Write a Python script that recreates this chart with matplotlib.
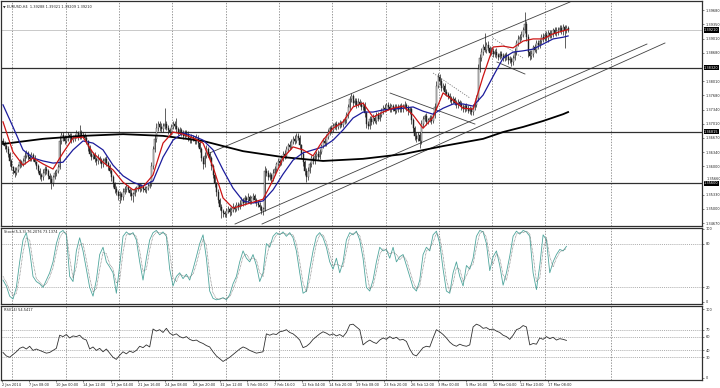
import numpy as np
import matplotlib
matplotlib.use("Agg")
import matplotlib.pyplot as plt
from matplotlib import transforms

W, H = 720, 388

# EURUSD H4, prices in pips above 1.3000, one value per bar
first_open = 660
close_p = [655, 648, 640, 630, 612, 598, 590, 585, 592, 600, 610, 605,
           612, 625, 632, 622, 618, 628, 620, 610, 600, 590, 580, 575,
           585, 595, 590, 578, 570, 560, 575, 585, 590, 598, 660, 675,
           668, 660, 665, 675, 670, 662, 668, 672, 678, 670, 680, 672,
           675, 668, 660, 645, 630, 622, 628, 618, 612, 620, 615, 605,
           612, 618, 608, 600, 590, 575, 560, 548, 540, 530, 535, 528,
           540, 548, 552, 545, 538, 530, 535, 545, 550, 556, 548, 552,
           548, 545, 550, 555, 560, 600, 640, 665, 690, 700, 692, 688,
           695, 700, 690, 685, 680, 692, 700, 695, 688, 682, 685, 678,
           672, 680, 675, 668, 662, 670, 665, 660, 668, 655, 640, 620,
           605, 625, 640, 630, 620, 600, 580, 560, 540, 520, 505, 495,
           490, 488, 495, 500, 492, 498, 505, 500, 510, 505, 512, 520,
           515, 525, 520, 528, 518, 525, 530, 522, 515, 510, 505, 495,
           500, 590, 585, 575, 580, 570, 585, 595, 605, 612, 608, 620,
           630, 625, 640, 650, 645, 658, 665, 660, 672, 668, 650, 630,
           610, 590, 575, 590, 605, 620, 612, 625, 630, 622, 635, 648,
           660, 655, 670, 680, 690, 685, 695, 700, 692, 698, 702, 698,
           705, 710, 720, 740, 758, 765, 750, 755, 745, 752, 748, 740,
           745, 725, 700, 695, 712, 705, 715, 708, 720, 712, 722, 730,
           738, 735, 745, 740, 735, 742, 738, 730, 740, 735, 742, 735,
           740, 745, 738, 730, 735, 710, 690, 672, 665, 675, 660, 700,
           712, 718, 705, 710, 715, 708, 720, 740, 790, 810, 800, 785,
           790, 775, 770, 765, 760, 755, 758, 750, 745, 752, 748, 740,
           735, 742, 738, 730, 735, 728, 740, 745, 760, 830, 855, 870,
           880, 875, 885, 878, 868, 872, 865, 870, 862, 858, 865, 860,
           855, 862, 858, 850, 852, 845, 855, 870, 890, 900, 905, 910,
           920, 935, 905, 870, 860, 865, 880, 875, 890, 885, 895, 905,
           900, 910, 902, 915, 908, 912, 920, 915, 918, 922, 925, 918,
           928, 920, 926, 921]
up_wick = [6, 4, 5, 8, 3, 6, 4, 9, 7, 5, 8, 6,
           7, 10, 6, 4, 8, 5, 3, 6, 4, 5, 7, 4,
           8, 6, 5, 4, 7, 9, 5, 6, 4, 8, 12, 7,
           5, 6, 9, 7, 4, 8, 6, 5, 7, 6, 18, 5,
           6, 4, 5, 3, 6, 8, 5, 7, 4, 9, 5, 6,
           8, 5, 6, 4, 5, 3, 6, 4, 7, 5, 8, 6,
           9, 6, 7, 5, 4, 8, 6, 7, 5, 6, 4, 7,
           5, 6, 4, 7, 5, 10, 8, 9, 12, 8, 6, 10,
           7, 37, 6, 8, 5, 9, 7, 6, 19, 5, 8, 6,
           7, 5, 6, 8, 4, 7, 5, 6, 9, 5, 4, 6,
           5, 8, 10, 6, 5, 4, 6, 5, 4, 6, 5, 7,
           6, 5, 8, 7, 4, 6, 9, 5, 7, 6, 8, 9,
           6, 7, 5, 9, 6, 5, 8, 6, 4, 5, 6, 4,
           5, 12, 7, 6, 8, 5, 9, 7, 6, 8, 5, 7,
           6, 8, 7, 5, 9, 6, 7, 8, 6, 6, 5, 4,
           6, 5, 7, 9, 6, 8, 5, 7, 6, 8, 7, 5,
           6, 8, 7, 9, 6, 7, 8, 5, 6, 7, 8, 6,
           7, 6, 9, 8, 7, 8, 6, 7, 5, 8, 6, 5,
           7, 6, 5, 8, 6, 7, 9, 5, 7, 8, 6, 7,
           6, 8, 5, 7, 9, 6, 5, 8, 7, 6, 5, 7,
           6, 8, 5, 7, 6, 4, 5, 6, 8, 5, 6, 9,
           7, 6, 8, 5, 7, 6, 9, 10, 12, 10, 8, 9,
           7, 6, 8, 5, 7, 6, 8, 5, 6, 7, 5, 6,
           7, 5, 8, 6, 7, 5, 8, 6, 9, 12, 10, 9,
           8, 34, 7, 9, 6, 8, 7, 6, 8, 5, 7, 6,
           8, 5, 7, 6, 8, 5, 7, 9, 8, 10, 7, 9,
           8, 28, 6, 7, 5, 8, 6, 9, 7, 8, 6, 7,
           9, 6, 8, 5, 7, 8, 6, 7, 9, 6, 8, 7,
           6, 5, 7, 5]
dn_wick = [5, 7, 6, 8, 10, 6, 7, 9, 5, 6, 4, 7,
           5, 6, 4, 7, 5, 6, 8, 5, 7, 6, 9, 8,
           6, 5, 7, 8, 9, 12, 6, 5, 7, 6, 5, 6,
           7, 8, 5, 6, 9, 6, 5, 7, 6, 8, 5, 7,
           5, 6, 7, 8, 6, 7, 5, 8, 9, 6, 7, 8,
           6, 5, 7, 8, 6, 9, 8, 10, 7, 9, 16, 7,
           6, 5, 7, 6, 8, 9, 14, 5, 6, 7, 8, 6,
           7, 6, 8, 5, 6, 7, 6, 5, 7, 6, 8, 7,
           6, 7, 5, 8, 6, 7, 5, 6, 8, 7, 5, 6,
           7, 5, 6, 8, 7, 6, 5, 8, 6, 9, 7, 8,
           10, 6, 5, 7, 8, 9, 7, 8, 9, 7, 8, 16,
           8, 7, 6, 5, 8, 7, 6, 8, 5, 7, 6, 5,
           7, 6, 8, 5, 7, 6, 5, 8, 7, 6, 8, 7,
           9, 5, 8, 7, 6, 8, 5, 6, 7, 5, 6, 5,
           6, 7, 5, 6, 7, 5, 6, 7, 5, 6, 8, 9,
           8, 9, 11, 6, 5, 7, 6, 5, 7, 6, 5, 6,
           5, 7, 6, 5, 7, 6, 5, 7, 6, 5, 7, 6,
           5, 6, 7, 5, 6, 7, 8, 6, 7, 5, 6, 7,
           6, 8, 9, 7, 6, 7, 5, 6, 7, 6, 5, 6,
           7, 6, 5, 7, 6, 8, 7, 6, 5, 7, 6, 7,
           6, 5, 7, 8, 6, 9, 8, 10, 7, 6, 17, 6,
           7, 6, 8, 6, 5, 7, 6, 5, 7, 6, 8, 7,
           6, 7, 5, 6, 8, 7, 5, 6, 7, 8, 6, 7,
           8, 6, 7, 5, 6, 8, 7, 6, 5, 6, 7, 6,
           7, 6, 8, 7, 9, 6, 7, 8, 6, 7, 5, 6,
           7, 6, 8, 9, 7, 8, 6, 5, 7, 6, 8, 7,
           6, 7, 10, 12, 9, 7, 8, 6, 7, 8, 6, 7,
           8, 6, 7, 9, 6, 7, 8, 6, 7, 8, 6, 7,
           8, 42, 6, 5]

# moving averages (pips above 1.3000), sampled every 6 bars
ma_bars = list(range(0, 337, 6)) + [339]
red_ma = [705, 634, 603, 620, 606, 594, 632, 667, 669, 632, 610, 592, 563, 545, 552,
          580, 655, 681, 676, 667, 655, 599, 526, 502, 509, 516, 523, 568, 620, 646,
          639, 625, 662, 690, 705, 740, 749, 716, 728, 737, 742, 721, 690, 716, 773,
          756, 737, 735, 812, 881, 883, 879, 895, 900, 900, 912, 919, 922]
blue_ma = [745, 693, 639, 620, 613, 608, 610, 639, 660, 655, 639, 603, 578, 563, 554,
           566, 622, 662, 679, 672, 662, 639, 592, 549, 519, 514, 519, 545, 582, 615,
           632, 639, 646, 662, 686, 714, 728, 728, 733, 735, 737, 740, 730, 723, 737,
           747, 747, 742, 768, 812, 855, 869, 872, 876, 888, 900, 904, 907]
black_bars = [0, 24, 48, 72, 96, 120, 144, 168, 192, 216, 240, 264, 288, 300, 312, 324, 336, 339]
black_ma = [653, 665, 672, 676, 672, 660, 636, 622, 613, 618, 629, 648, 665, 681, 693, 707, 723, 728]

# oscillators, one value every 2 bars
stoch_main = [30, 22, 8, 4, 20, 55, 85, 95, 70, 35, 28, 25, 20, 30, 40,
              55, 80, 95, 98, 92, 35, 28, 70, 88, 70, 45, 20, 8, 30, 65,
              75, 55, 48, 40, 12, 50, 90, 96, 92, 95, 85, 55, 30, 60, 85,
              95, 98, 92, 96, 90, 45, 22, 35, 40, 32, 38, 30, 45, 62, 80,
              92, 60, 15, 5, 3, 4, 6, 3, 10, 25, 35, 55, 70, 60, 55,
              65, 50, 28, 40, 80, 75, 90, 95, 92, 96, 90, 95, 88, 70, 40,
              12, 15, 45, 70, 90, 95, 88, 75, 55, 45, 60, 40, 55, 85, 95,
              92, 97, 85, 60, 20, 15, 30, 55, 75, 70, 72, 60, 75, 55, 62,
              65, 50, 35, 20, 15, 30, 65, 75, 70, 92, 97, 80, 45, 15, 12,
              40, 55, 35, 22, 50, 45, 60, 90, 98, 96, 80, 43, 62, 70, 50,
              23, 40, 63, 90, 97, 93, 98, 96, 90, 40, 17, 50, 92, 85, 40,
              55, 65, 72, 70, 76.2]
stoch_sig = [35, 27, 16, 9, 12, 35, 68, 88, 85, 55, 32, 27, 22, 25, 34,
             47, 68, 88, 95, 95, 60, 33, 48, 78, 80, 58, 33, 14, 18, 45,
             68, 66, 52, 45, 26, 30, 68, 92, 94, 93, 90, 70, 42, 45, 72,
             90, 96, 95, 94, 93, 68, 34, 28, 38, 36, 35, 34, 38, 52, 70,
             86, 78, 38, 12, 5, 4, 5, 5, 7, 17, 30, 45, 62, 66, 58,
             60, 58, 40, 35, 60, 80, 83, 92, 94, 94, 93, 93, 92, 80, 55,
             26, 14, 30, 56, 80, 92, 92, 82, 65, 50, 52, 50, 48, 70, 90,
             94, 95, 91, 73, 42, 18, 22, 42, 65, 73, 71, 66, 68, 65, 58,
             63, 58, 43, 28, 18, 22, 47, 70, 73, 82, 94, 89, 63, 30, 14,
             26, 47, 45, 28, 36, 48, 52, 75, 94, 97, 88, 62, 52, 66, 60,
             37, 30, 52, 77, 93, 95, 95, 97, 93, 65, 28, 33, 71, 88, 62,
             48, 60, 68, 71, 73.1]
rsi_vals = [37, 32, 30, 34, 38, 43, 45, 42, 46, 40, 42, 40, 38, 36, 37,
            40, 43, 62, 60, 63, 58, 61, 60, 62, 57, 55, 42, 45, 40, 43,
            38, 42, 36, 30, 27, 33, 38, 35, 39, 37, 40, 46, 44, 48, 45,
            71, 68, 70, 66, 72, 65, 62, 64, 60, 58, 60, 56, 54, 55, 52,
            50, 47, 45, 38, 32, 28, 24, 27, 30, 34, 38, 42, 45, 43, 40,
            38, 36, 37, 38, 64, 62, 64, 63, 67, 68, 70, 66, 64, 60, 55,
            44, 46, 50, 56, 60, 64, 67, 65, 62, 64, 61, 63, 60, 66, 77,
            78, 74, 70, 48, 52, 55, 52, 50, 55, 58, 56, 60, 57, 59, 55,
            56, 53, 42, 34, 32, 38, 44, 46, 45, 58, 70, 67, 63, 58, 52,
            48, 46, 49, 47, 46, 48, 74, 78, 76, 72, 73, 70, 71, 68, 66,
            62, 60, 56, 62, 70, 72, 76, 74, 48, 50, 49, 58, 56, 60, 57,
            59, 55, 57, 56, 54.5]
osc_bars = list(range(0, 340, 2))

price_ticks = [1.39680, 1.39350, 1.39010, 1.38680, 1.38010, 1.37680, 1.37340,
               1.37010, 1.36670, 1.36340, 1.36000, 1.35330, 1.35000, 1.34670]
crowded_tick = 1.35660
levels = [1.38320, 1.36815, 1.35600]
bid = 1.39210
date_labels = ["2 Jan 2014", "7 Jan 08:00", "10 Jan 00:00", "14 Jan 12:00", "17 Jan 04:00",
               "21 Jan 16:00", "24 Jan 08:00", "28 Jan 20:00", "31 Jan 12:00", "5 Feb 00:00",
               "7 Feb 16:00", "12 Feb 04:00", "14 Feb 20:00", "19 Feb 08:00", "23 Feb 20:00",
               "26 Feb 12:00", "3 Mar 00:00", "5 Mar 16:00", "10 Mar 04:00", "12 Mar 20:00",
               "17 Mar 08:00"]
# hand drawn trend lines: (bar, price) end points
trend_solid = [((122.4, 1.36293), (340.1, 1.39868)),
               ((139.2, 1.34647), (386.3, 1.38880)),
               ((155.4, 1.34647), (397.1, 1.38904)),
               ((232.2, 1.37727), (283.1, 1.36998)),
               ((296.3, 1.38457), (313.1, 1.38175))]
trend_dotted = [((258.0, 1.38198), (280.1, 1.37610)),
                ((293.9, 1.39021), (311.9, 1.38551))]


def pip(v):
    return 1.3 + np.asarray(v, dtype=float) / 10000.0


def px2bar(px):
    return (np.asarray(px, dtype=float) - 3) / 1.667


FS = 2.5
INK = '#202020'

fig = plt.figure(figsize=(W / 100, H / 100), dpi=100)
fig.patch.set_facecolor('white')


def panel(l, t, r, b):
    a = fig.add_axes([l / W, 1 - b / H, (r - l) / W, (b - t) / H])
    a.set_xlim(px2bar(0.5), px2bar(702))
    for s in a.spines.values():
        s.set_color('#303030')
        s.set_linewidth(0.9)
    a.yaxis.tick_right()
    a.tick_params(axis='y', direction='out', length=1.5, width=0.4, pad=1,
                  labelsize=FS, colors=INK)
    a.tick_params(axis='x', bottom=False, labelbottom=False)
    for g in px2bar([12, 66, 119, 172, 226, 279, 332, 386, 439, 492, 545, 611]):
        a.axvline(g, color='#707070', lw=0.5, ls=(0, (2, 2)), zorder=0)
    return a


ax = panel(0.5, 1, 702, 226)
ax_st = panel(0.5, 227.5, 702, 304)
ax_rsi = panel(0.5, 306, 702, 380)

# ---- main price panel
c = pip(close_p)
o = np.r_[pip(first_open), c[:-1]]
hi = np.maximum(o, c) + np.asarray(up_wick) / 1e4
lo = np.minimum(o, c) - np.asarray(dn_wick) / 1e4
idx = np.arange(len(c))
ax.vlines(idx, lo, hi, color=INK, lw=0.5, zorder=3)
body = np.where(np.abs(c - o) < 0.00006, 0.00006, c - o)
bull = c >= o
ax.bar(idx[bull], body[bull], bottom=o[bull], width=0.6, color='white',
       edgecolor=INK, linewidth=0.3, zorder=4)
ax.bar(idx[~bull], body[~bull], bottom=o[~bull], width=0.6, color=INK,
       edgecolor=INK, linewidth=0.3, zorder=4)

ax.plot(black_bars, pip(black_ma), color='black', lw=1.3, zorder=5)
ax.plot(ma_bars, pip(blue_ma), color='#1c1c9c', lw=0.9, zorder=6)
ax.plot(ma_bars, pip(red_ma), color='#cc1414', lw=0.9, zorder=7)

for (x0, y0), (x1, y1) in trend_solid:
    ax.plot([x0, x1], [y0, y1], color='#404040', lw=0.6, zorder=2)
for (x0, y0), (x1, y1) in trend_dotted:
    ax.plot([x0, x1], [y0, y1], color='#808080', lw=0.6, ls=(0, (1.5, 1.5)), zorder=2)

for lv in levels:
    ax.axhline(lv, color='#303030', lw=0.9, zorder=2)
ax.axhline(bid, color='#c0c0c0', lw=0.6, zorder=1)

ax.set_ylim(1.34600, 1.39892)
ax.set_yticks(price_ticks)
ax.set_yticklabels(['%.5f' % p for p in price_ticks])
tr = transforms.blended_transform_factory(ax.transAxes, ax.transData)
# the scale label that sits just above a level box is nudged up a little
ax.text(1.006, crowded_tick + 0.0001, '%.5f' % crowded_tick, transform=tr, ha='left',
        va='bottom', fontsize=FS, color=INK, clip_on=False)
for lv in levels + [bid]:
    ax.text(1.003, lv, '%.5f' % lv, transform=tr, ha='left', va='center', fontsize=FS,
            color='white', clip_on=False, zorder=10,
            bbox=dict(facecolor='black', edgecolor='none', pad=0.4))
ax.text(0.004, 0.985, '\u25bc EURUSD,H4  1.39288 1.39321 1.39209 1.39210',
        transform=ax.transAxes, ha='left', va='top', fontsize=FS, color=INK)

# ---- stochastic
ax_st.plot(osc_bars, stoch_main, color='#4ea59c', lw=0.6, zorder=3)
ax_st.plot(osc_bars, stoch_sig, color='#6c6c6c', lw=0.5, ls=(0, (1, 1)), zorder=3)
for lv in (20, 80):
    ax_st.axhline(lv, color='#909090', lw=0.5, ls=(0, (1.5, 1.5)), zorder=1)
ax_st.set_ylim(-2.74, 102.05)
ax_st.set_yticks([0, 20, 80, 100])
ax_st.set_yticklabels(['0', '20', '80', '100'])
ax_st.text(0.005, 0.94, 'Stoch(5,3,3) 76.2076 73.1374', transform=ax_st.transAxes,
           ha='left', va='center', fontsize=FS, color=INK)

# ---- RSI
ax_rsi.plot(osc_bars, rsi_vals, color='#303030', lw=0.6, zorder=3)
for lv in (30, 40, 60, 70):
    ax_rsi.axhline(lv, color='#909090', lw=0.5, ls=(0, (1.5, 1.5)), zorder=1)
ax_rsi.set_ylim(-2.9, 104.35)
ax_rsi.set_yticks([0, 30, 40, 60, 70, 100])
ax_rsi.set_yticklabels(['0', '30', '40', '60', '70', '100'])
ax_rsi.text(0.005, 0.945, 'RSI(14) 54.5417', transform=ax_rsi.transAxes,
            ha='left', va='center', fontsize=FS, color=INK)

ax_rsi.set_xticks(px2bar(1.5 + 27.3 * np.arange(len(date_labels))))
ax_rsi.set_xticklabels(date_labels, ha='left')
ax_rsi.tick_params(axis='x', bottom=True, labelbottom=True, direction='out', length=1.5,
                   width=0.4, pad=0.8, labelsize=FS, colors=INK)

fig.savefig('out.png', dpi=100, facecolor='white')
